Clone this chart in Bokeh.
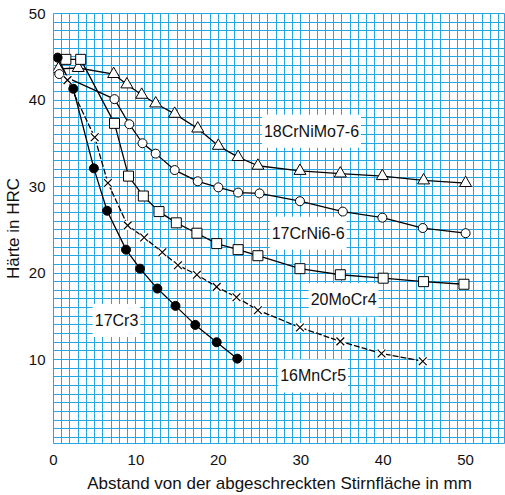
from bokeh.plotting import figure
from bokeh.models import Range1d, FixedTicker, SingleIntervalTicker, Label
from bokeh.embed import file_html
from bokeh.resources import INLINE

# --- data ---
# 18CrNiMo7-6 (triangles)
x_crnimo = [0.6, 3.0, 7.3, 8.9, 10.7, 12.4, 14.7, 17.5, 20.0, 22.4, 24.8, 29.9, 34.8, 39.9, 44.9, 50.0]
y_crnimo = [43.6, 43.7, 43.0, 41.8, 40.6, 39.6, 38.4, 36.7, 34.7, 33.4, 32.4, 31.8, 31.5, 31.2, 30.7, 30.4]
# 17CrNi6-6 (open circles)
x_crni = [0.7, 7.4, 9.2, 10.8, 12.4, 14.7, 17.5, 20.0, 22.4, 25.0, 29.9, 35.1, 39.9, 44.8, 50.0]
y_crni = [43.0, 40.1, 37.2, 35.0, 33.8, 31.9, 30.6, 29.9, 29.3, 29.2, 28.3, 27.1, 26.4, 25.2, 24.6]
# 20MoCr4 (squares)
x_mocr = [1.5, 3.3, 7.4, 9.1, 10.9, 12.8, 14.9, 17.4, 19.8, 22.4, 24.8, 29.9, 34.8, 40.0, 44.9, 49.8]
y_mocr = [44.7, 44.7, 37.3, 31.2, 28.9, 27.1, 25.8, 24.6, 23.4, 22.7, 22.0, 20.5, 19.8, 19.4, 19.0, 18.7]
# 16MnCr5 (crosses, dashed)
x_mncr = [1.7, 5.0, 6.6, 9.0, 11.0, 13.2, 15.1, 17.4, 19.8, 22.2, 24.8, 29.9, 34.8, 39.8, 44.8]
y_mncr = [42.3, 35.7, 30.4, 25.5, 24.1, 22.4, 20.9, 19.8, 18.4, 17.2, 15.7, 13.7, 12.1, 10.7, 9.8]
# 17Cr3 (filled circles)
x_cr3 = [0.5, 2.4, 4.9, 6.5, 8.8, 10.5, 12.6, 14.8, 17.2, 19.8, 22.3]
y_cr3 = [44.9, 41.3, 32.1, 27.2, 22.7, 20.5, 18.2, 16.2, 14.0, 12.0, 10.1]

# curve names and where their name boxes sit
names = ["18CrNiMo7-6", "17CrNi6-6", "20MoCr4", "16MnCr5", "17Cr3"]
name_x = [31.3, 30.9, 35.2, 31.5, 7.65]
name_y = [36.4, 24.6, 16.9, 8.1, 14.5]

x_ticks = [0, 10, 20, 30, 40, 50]
y_ticks = [10, 20, 30, 40, 50]

GRID = "#25a6e2"
FONT = "Liberation Sans"
INK = "#111111"

p = figure(width=505, height=495,
           x_range=Range1d(0, 54.84), y_range=Range1d(0.29, 50.0),
           output_backend="svg", toolbar_location=None,
           min_border_left=52, min_border_right=0,
           min_border_top=13, min_border_bottom=52)

p.background_fill_color = "white"
p.border_fill_color = "white"
p.outline_line_color = GRID
p.outline_line_width = 1

for g in (p.xgrid, p.ygrid):
    g.ticker = SingleIntervalTicker(interval=1)
    g.grid_line_color = GRID
    g.grid_line_width = 1
    g.grid_line_alpha = 1.0

p.xaxis.ticker = FixedTicker(ticks=x_ticks)
p.yaxis.ticker = FixedTicker(ticks=y_ticks)
for ax in (p.xaxis, p.yaxis):
    ax.axis_line_color = None
    ax.major_tick_line_color = None
    ax.minor_tick_line_color = None
    ax.major_tick_out = 0
    ax.major_tick_in = 0
    ax.major_label_text_font = FONT
    ax.major_label_text_font_size = "15px"
    ax.major_label_text_color = INK
    ax.axis_label_text_font = FONT
    ax.axis_label_text_font_size = "17px"
    ax.axis_label_text_font_style = "normal"
    ax.axis_label_text_color = INK

p.xaxis.axis_label = "Abstand von der abgeschreckten Stirnfläche in mm"
p.xaxis.major_label_standoff = 11
p.xaxis.axis_label_standoff = 6
p.xaxis.major_label_text_line_height = 1.0
p.xaxis.axis_label_text_line_height = 1.0
p.yaxis.axis_label = "Härte in HRC"
p.yaxis.major_label_standoff = 8
p.yaxis.axis_label_standoff = 3

LW = 1.3
p.line(x_crnimo, y_crnimo, line_color="black", line_width=LW)
p.line(x_crni, y_crni, line_color="black", line_width=LW)
p.line(x_mocr, y_mocr, line_color="black", line_width=LW)
p.line(x_mncr, y_mncr, line_color="black", line_width=LW, line_dash="6 2")
p.line(x_cr3, y_cr3, line_color="black", line_width=LW)

p.scatter(x_crnimo, y_crnimo, marker="triangle", size=12, fill_color="white",
          line_color="black", line_width=1)
p.scatter(x_crni, y_crni, marker="circle", size=9, fill_color="white",
          line_color="black", line_width=1)
p.scatter(x_mocr, y_mocr, marker="square", size=10, fill_color="white",
          line_color="black", line_width=1)
# white patch behind each cross, as in the reference
p.scatter(x_mncr, y_mncr, marker="square", size=9, fill_color="white",
          line_color=None)
p.scatter(x_mncr, y_mncr, marker="x", size=11, line_color="black", line_width=1.2)
p.scatter(x_cr3, y_cr3, marker="circle", size=9, fill_color="black",
          line_color="black", line_width=1)

for t, lx, ly in zip(names, name_x, name_y):
    p.add_layout(Label(x=lx, y=ly, text=t, text_align="center", text_baseline="middle",
                       text_font=FONT, text_font_size="16px", text_color=INK,
                       background_fill_color="white", background_fill_alpha=1.0,
                       padding=(2, 8)))

open("out.html", "w").write(file_html(p, INLINE))
